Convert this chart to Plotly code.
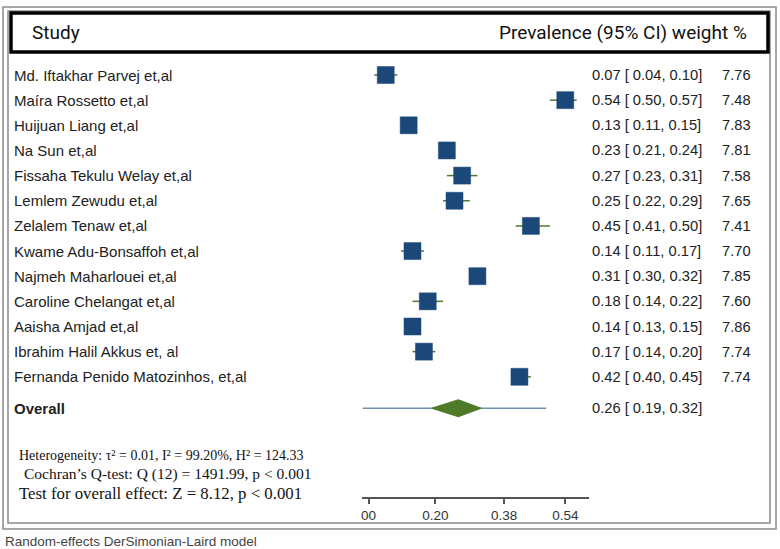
import plotly.graph_objects as go

studies = [
    "Md. Iftakhar Parvej et,al", "Maíra Rossetto et,al", "Huijuan Liang et,al",
    "Na Sun et,al", "Fissaha Tekulu Welay et,al", "Lemlem Zewudu et,al",
    "Zelalem Tenaw et,al", "Kwame Adu-Bonsaffoh et,al", "Najmeh Maharlouei et,al",
    "Caroline Chelangat et,al", "Aaisha Amjad et,al", "Ibrahim Halil Akkus et, al",
    "Fernanda Penido Matozinhos, et,al",
]
prev = [0.07, 0.54, 0.13, 0.23, 0.27, 0.25, 0.45, 0.14, 0.31, 0.18, 0.14, 0.17, 0.42]
ci_lo = [0.04, 0.50, 0.11, 0.21, 0.23, 0.22, 0.41, 0.11, 0.30, 0.14, 0.13, 0.14, 0.40]
ci_hi = [0.10, 0.57, 0.15, 0.24, 0.31, 0.29, 0.50, 0.17, 0.32, 0.22, 0.15, 0.20, 0.45]
weights = ["7.76", "7.48", "7.83", "7.81", "7.58", "7.65", "7.41", "7.70", "7.85",
           "7.60", "7.86", "7.74", "7.74"]
overall_est, overall_lo, overall_hi = 0.26, 0.19, 0.32
pred_lo, pred_hi = 0.01, 0.49
tick_vals = [0.025, 0.20, 0.38, 0.54]
tick_text = ["00", "0.20", "0.38", "0.54"]

W, H = 780, 549
n = len(studies)
rows = list(range(n))
overall_y = n + 0.25

ROW0_PX, ROW_STEP = 75, 25.15
AX_TOP_PX, AX_BOT_PX = 60, 497
X_L_PX, X_R_PX = 362, 589
px_per_unit = 382.0
x0_px = 359.0

def yfrac(px):
    return (H - px) / H

y_top = (AX_TOP_PX - ROW0_PX) / ROW_STEP
y_bot = (AX_BOT_PX - ROW0_PX) / ROW_STEP
x_rng = [(X_L_PX - x0_px) / px_per_unit, (X_R_PX - x0_px) / px_per_unit]

fig = go.Figure()

# prediction-interval line for overall
fig.add_trace(go.Scatter(x=[pred_lo, pred_hi], y=[overall_y, overall_y], mode="lines",
                         line=dict(color="#6f8fae", width=1.5), hoverinfo="skip"))
# diamond
dh = 8.5 / ROW_STEP
fig.add_trace(go.Scatter(x=[overall_lo, overall_est, overall_hi, overall_est, overall_lo],
                         y=[overall_y, overall_y - dh, overall_y, overall_y + dh, overall_y],
                         mode="lines", fill="toself", fillcolor="#4f7a28",
                         line=dict(color="#4f7a28", width=1), hoverinfo="skip"))
# studies
fig.add_trace(go.Scatter(
    x=prev, y=rows, mode="markers",
    marker=dict(symbol="square", size=17, color="#1b4878", line=dict(color="#1b4878", width=0.5)),
    error_x=dict(type="data", symmetric=False,
                 array=[h - p for h, p in zip(ci_hi, prev)],
                 arrayminus=[p - l for p, l in zip(prev, ci_lo)],
                 color="#4f7a28", thickness=1.5, width=0),
    hoverinfo="skip"))

ann = []
txt_col = "#222222"
sans = "Liberation Sans, Arial"
for i, s in enumerate(studies):
    ann.append(dict(x=12 / W, xref="paper", y=i, yref="y", text=s, showarrow=False,
                    xanchor="left", yanchor="middle",
                    font=dict(family=sans, size=15, color=txt_col)))
    ann.append(dict(x=590 / W, xref="paper", y=i, yref="y",
                    text=f"{prev[i]:.2f} [ {ci_lo[i]:.2f}, {ci_hi[i]:.2f}]", showarrow=False,
                    xanchor="left", yanchor="middle",
                    font=dict(family=sans, size=14.7, color=txt_col)))
    ann.append(dict(x=753 / W, xref="paper", y=i, yref="y", text=weights[i], showarrow=False,
                    xanchor="right", yanchor="middle",
                    font=dict(family=sans, size=14.7, color=txt_col)))
ann.append(dict(x=12 / W, xref="paper", y=overall_y, yref="y", text="<b>Overall</b>",
                showarrow=False, xanchor="left", yanchor="middle",
                font=dict(family=sans, size=15, color=txt_col)))
ann.append(dict(x=590 / W, xref="paper", y=overall_y, yref="y",
                text=f"{overall_est:.2f} [ {overall_lo:.2f}, {overall_hi:.2f}]",
                showarrow=False, xanchor="left", yanchor="middle",
                font=dict(family=sans, size=14.7, color=txt_col)))

# header
ann.append(dict(x=30 / W, xref="paper", y=yfrac(33), yref="paper", text="Study",
                showarrow=False, xanchor="left", yanchor="middle",
                font=dict(family="Roboto", size=19, color="#111")))
ann.append(dict(x=749 / W, xref="paper", y=yfrac(33), yref="paper",
                text="Prevalence (95% CI) weight %",
                showarrow=False, xanchor="right", yanchor="middle",
                font=dict(family="Roboto", size=19, color="#111")))

# stats text
serif = "Liberation Serif, Times New Roman"
ann.append(dict(x=17 / W, xref="paper", y=yfrac(455), yref="paper",
                text="Heterogeneity: τ² = 0.01, I² = 99.20%, H² = 124.33",
                showarrow=False, xanchor="left", yanchor="middle",
                font=dict(family=serif, size=14, color="#111")))
ann.append(dict(x=22 / W, xref="paper", y=yfrac(474), yref="paper",
                text="Cochran’s Q-test: Q (12) = 1491.99, p < 0.001",
                showarrow=False, xanchor="left", yanchor="middle",
                font=dict(family=serif, size=15.5, color="#111")))
ann.append(dict(x=17 / W, xref="paper", y=yfrac(493), yref="paper",
                text="Test for overall effect: Z = 8.12, p < 0.001",
                showarrow=False, xanchor="left", yanchor="middle",
                font=dict(family=serif, size=16.8, color="#111")))
ann.append(dict(x=3 / W, xref="paper", y=yfrac(541), yref="paper",
                text="Random-effects DerSimonian-Laird model",
                showarrow=False, xanchor="left", yanchor="middle",
                font=dict(family=sans, size=13.5, color="#444")))

shapes = [
    dict(type="rect", xref="paper", yref="paper", x0=3 / W, x1=776 / W,
         y0=yfrac(529), y1=yfrac(7), line=dict(color="#8a8a8a", width=1.5)),
    dict(type="rect", xref="paper", yref="paper", x0=8 / W, x1=770 / W,
         y0=yfrac(523), y1=yfrac(11), line=dict(color="#8a8a8a", width=1.5)),
    dict(type="rect", xref="paper", yref="paper", x0=11 / W, x1=768 / W,
         y0=yfrac(52), y1=yfrac(13), line=dict(color="#000", width=3.5),
         fillcolor="white"),
]

fig.update_layout(
    width=W, height=H, margin=dict(l=0, r=0, t=0, b=0),
    paper_bgcolor="white", plot_bgcolor="white", showlegend=False,
    annotations=ann, shapes=shapes,
    xaxis=dict(domain=[X_L_PX / W, X_R_PX / W], range=x_rng, showgrid=False,
               zeroline=False, showline=True, linecolor="#555", linewidth=1.5,
               ticks="outside", ticklen=5, tickcolor="#555", tickwidth=1.5,
               tickvals=tick_vals, ticktext=tick_text,
               tickfont=dict(family=sans, size=13.5, color="#333")),
    yaxis=dict(domain=[yfrac(AX_BOT_PX), yfrac(AX_TOP_PX)], range=[y_bot, y_top],
               showgrid=False, zeroline=False, showline=False, showticklabels=False,
               ticks=""),
)

fig.write_html("out.html")
